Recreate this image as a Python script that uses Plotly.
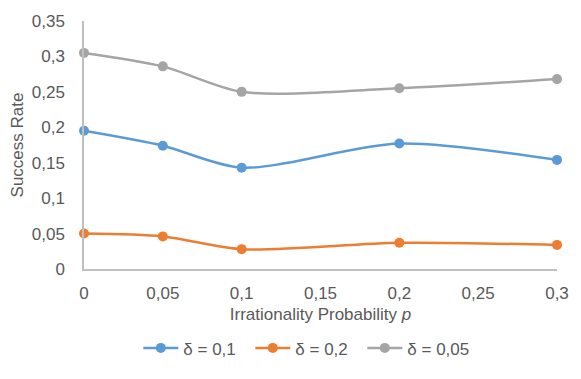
import plotly.graph_objects as go

x_vals = [0, 0.05, 0.1, 0.2, 0.3]
delta_01 = [0.195, 0.174, 0.143, 0.177, 0.154]
delta_02 = [0.050, 0.046, 0.028, 0.037, 0.034]
delta_005 = [0.305, 0.286, 0.250, 0.255, 0.268]
series_names = ["δ = 0,1", "δ = 0,2", "δ = 0,05"]
colors = ["#5B9BD5", "#ED7D31", "#A5A5A5"]

fig = go.Figure()
for name, ys, c in zip(series_names, [delta_01, delta_02, delta_005], colors):
    fig.add_trace(go.Scatter(
        x=x_vals, y=ys, name=name, mode="lines+markers",
        line=dict(color=c, width=2.5, shape="spline", smoothing=0.8),
        marker=dict(color=c, size=10),
        cliponaxis=False,
    ))

font_family = "Liberation Sans, Arial, sans-serif"
fs = 17
fig.update_layout(
    width=581, height=379,
    margin=dict(l=84, r=15, t=15, b=109),
    plot_bgcolor="white", paper_bgcolor="white",
    separators=",.",
    font=dict(family=font_family, size=fs, color="#595959"),
    showlegend=True,
    legend=dict(orientation="h", x=0.47, xanchor="center", y=-0.32, yanchor="middle",
                font=dict(size=fs, color="#595959"), itemwidth=35,
                entrywidth=62, entrywidthmode="pixels"),
    xaxis=dict(
        range=[0, 0.3], tick0=0, dtick=0.05, showgrid=False, zeroline=False,
        showline=True, linecolor="#BFBFBF", linewidth=1.5, ticks="",
        ticklabelstandoff=8,
        tickfont=dict(size=fs, color="#595959"),
        title=dict(text="Irrationality Probability <i>p</i>", font=dict(size=fs, color="#595959"), standoff=6),
    ),
    yaxis=dict(
        range=[0, 0.35], tick0=0, dtick=0.05, showgrid=False, zeroline=False,
        showline=True, linecolor="#BFBFBF", linewidth=1.5, ticks="",
        ticklabelstandoff=14,
        tickfont=dict(size=fs, color="#595959"),
        title=dict(text="Success Rate", font=dict(size=fs, color="#595959"), standoff=4),
    ),
)
fig.write_html("out.html")
